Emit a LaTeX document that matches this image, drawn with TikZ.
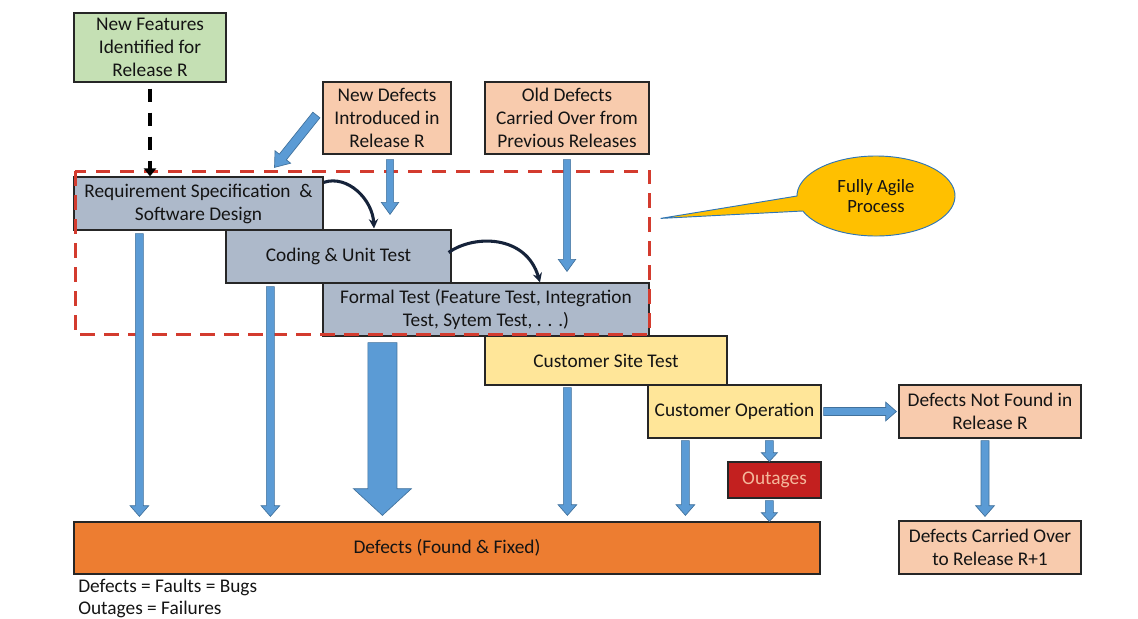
\documentclass[tikz,border=0pt]{standalone}
\usepackage{fontspec}
\setmainfont{Carlito}
\usetikzlibrary{calc,arrows.meta}

\definecolor{featgreen}{HTML}{C5E0B4}
\definecolor{peach}{HTML}{F8CBAD}
\definecolor{steel}{HTML}{ADB9CA}
\definecolor{sand}{HTML}{FFE699}
\definecolor{outred}{HTML}{C3201F}
\definecolor{outtext}{HTML}{F4B89C}
\definecolor{defectorange}{HTML}{ED7D31}
\definecolor{arrowblue}{HTML}{5B9BD5}
\definecolor{arrowedge}{HTML}{41719C}
\definecolor{agilered}{HTML}{D33B2E}
\definecolor{calloutfill}{HTML}{FFC000}
\definecolor{calloutedge}{HTML}{2E75B6}
\definecolor{boxline}{HTML}{262626}
\definecolor{curvecol}{HTML}{16233A}
\definecolor{inktext}{HTML}{141414}

% block arrow: start, end, half shaft width, half head width, head length
\newcommand\blockarrow[5]{%
  \coordinate (ba-s) at (#1);
  \coordinate (ba-e) at (#2);
  \coordinate (ba-q) at ($(ba-e)!#5!(ba-s)$);
  \filldraw[fatarrow]
    ($(ba-s)!#3!90:(ba-e)$) -- ($(ba-q)!#3!90:(ba-e)$) --
    ($(ba-q)!#4!90:(ba-e)$) -- (ba-e) --
    ($(ba-q)!#4!-90:(ba-e)$) -- ($(ba-q)!#3!-90:(ba-e)$) --
    ($(ba-s)!#3!-90:(ba-e)$) -- cycle;}

\begin{document}
\begin{tikzpicture}[x=0.75pt,y=-0.75pt,
  txt/.style={font=\fontsize{14.5}{17.25}\selectfont, text=inktext},
  box/.style 2 args={txt, draw=boxline, line width=0.9pt, inner sep=0pt,
    align=center, minimum width=#1*0.75pt, minimum height=#2*0.75pt},
  fatarrow/.style={fill=arrowblue, draw=arrowedge, line width=0.5pt, line join=miter},
  stagecurve/.style={draw=curvecol, line width=2.3pt, -{Stealth[length=7pt,width=7pt]}},
  featdash/.style={draw=black, line width=2.8pt, dash pattern=on 10pt off 8pt,
    -{Triangle[length=6pt,width=9pt]}},
  agiledash/.style={draw=agilered, line width=2.6pt, dash pattern=on 11pt off 7pt},
]
\useasboundingbox (0,0) rectangle (1138,618);

% inputs
\node[box={152}{69}, fill=featgreen] (feat) at (150,47.5) {New Features\\Identified for\\Release R};
\node[box={128}{72}, fill=peach] (newdef) at (387,118) {New Defects\\Introduced in\\Release R};
\node[box={164}{72}, fill=peach] (olddef) at (567,118) {Old Defects\\Carried Over from\\Previous Releases};

% development stages
\node[box={249}{53}, fill=steel] (req) at (198.5,203.5) {Requirement Specification\ \ \&\\Software Design};
\node[box={225}{53}, fill=steel] (code) at (338.5,256.5) {Coding \& Unit Test};
\node[box={326}{53}, fill=steel] (formal) at (486,309.5) {Formal Test (Feature Test, Integration\\Test, Sytem Test, . . .)};

% field stages
\node[box={242}{49}, fill=sand] (site) at (606,360.5) {Customer Site Test};
\node[box={173}{53}, fill=sand] (oper) at (734.5,411.5) {Customer Operation};
\node[box={93}{36}, fill=outred, text=outtext] (outage) at (774.5,480) {Outages};

% outcomes
\node[box={746}{52}, fill=defectorange] (defects) at (447,548) {Defects (Found \& Fixed)};
\node[box={182}{53}, fill=peach] (notfound) at (990,411.5) {Defects Not Found in\\Release R};
\node[box={182}{53}, fill=peach] (carried) at (990,547.5) {Defects Carried Over\\to Release R+1};

% legend
\node[txt, anchor=west, inner sep=0pt] (leg1) at (78,587) {Defects = Faults = Bugs};
\node[txt, anchor=west, inner sep=0pt] (leg2) at (78,609) {Outages = Failures};

% agile boundary
\coordinate (agnw) at ($(req.north west)+(2,-5)$);
\coordinate (agse) at ($(formal.south east)+(0,-2)$);
\draw[agiledash] (agnw) rectangle (agse);

% callout
\coordinate (agilec) at (876,196);
\coordinate (agiletip) at ($(formal.north east)+(11,-64)$);
\filldraw[fill=calloutfill, draw=calloutedge, line width=0.7pt, line join=miter]
  (agiletip) -- ($(agilec)+(158:79 and 40)$)
  arc[start angle=158, end angle=-180, x radius=79, y radius=40] -- cycle;
\node[font=\fontsize{14}{15}\selectfont, text=inktext, align=center] (agile) at (agilec) {Fully Agile\\Process};

% feature flow
\draw[featdash] ($(feat.south)+(0,6)$) -- (feat.south |- req.north);

% stage hand-offs
\draw[stagecurve] ($(req.north east)+(0,6)$) .. controls ($(req.north east)+(24,-2)$) and ($(code.north)+(34,-30)$) .. ($(code.north)+(35.5,-1)$);
\draw[stagecurve] ($(code.east)+(-3,-4)$) .. controls ($(code.east)+(22,-22)$) and ($(formal.north)+(40,-48)$) .. ($(formal.north)+(54,0)$);

% defect injection
\blockarrow{$(newdef.west)+(-6,-3)$}{$(req.north)+(76,-9)$}{3.4pt}{7.5pt}{10pt}
\coordinate (nd) at ($(newdef.south)+(3,5)$);
\blockarrow{nd}{$(nd |- code.north)+(0,-15)$}{2.7pt}{6.5pt}{9pt}
\coordinate (od) at ($(olddef.south)+(0,5)$);
\blockarrow{od}{$(od |- formal.north)+(0,-11)$}{2.7pt}{6.5pt}{9pt}

% defects found per stage
\coordinate (r1) at ($(req.south west)+(66,3)$);
\blockarrow{r1}{$(r1 |- defects.north)+(0,-5)$}{3pt}{7pt}{8pt}
\coordinate (c1) at ($(code.south west)+(45,3)$);
\blockarrow{c1}{$(c1 |- defects.north)+(0,-5)$}{3pt}{7pt}{8pt}
\coordinate (f1) at ($(formal.south west)+(60,6)$);
\blockarrow{f1}{$(f1 |- defects.north)+(0,-6)$}{10.9pt}{21.7pt}{20pt}
\coordinate (s1) at ($(site.south west)+(83,2)$);
\blockarrow{s1}{$(s1 |- defects.north)+(0,-6)$}{3pt}{7pt}{8pt}
\coordinate (o1) at ($(oper.south west)+(38,2)$);
\blockarrow{o1}{$(o1 |- defects.north)+(0,-6)$}{3pt}{7pt}{8pt}
\coordinate (o2) at ($(oper.south west)+(122,2)$);
\blockarrow{o2}{o2 |- outage.north}{3pt}{6pt}{6.5pt}
\coordinate (o3) at ($(outage.south west)+(42,2)$);
\blockarrow{o3}{o3 |- defects.north}{3pt}{6pt}{6.5pt}

% escapes
\blockarrow{$(oper.east)+(2,0)$}{$(notfound.west)+(-2,0)$}{3pt}{7pt}{8pt}
\coordinate (n1) at ($(notfound.south)+(-5,2)$);
\blockarrow{n1}{$(n1 |- carried.north)+(0,-4)$}{3pt}{7pt}{8pt}
\end{tikzpicture}
\end{document}
